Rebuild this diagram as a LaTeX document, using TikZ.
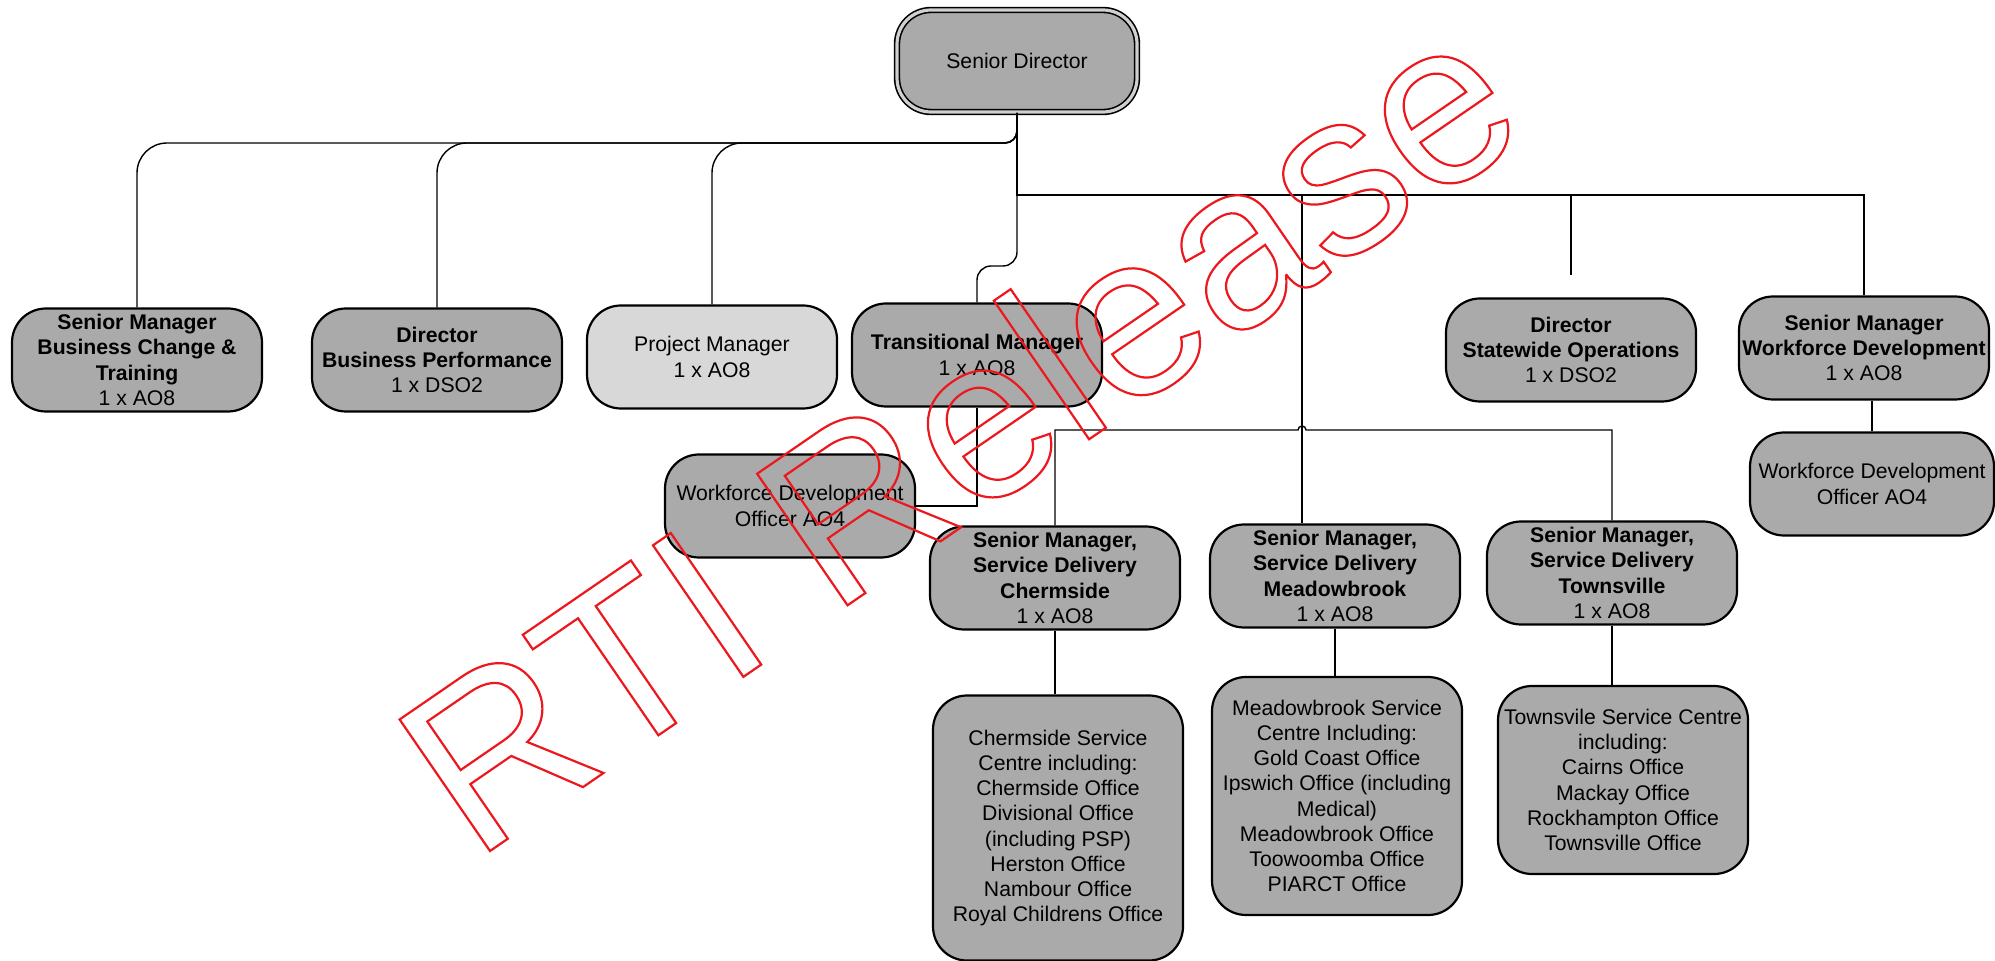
\documentclass[tikz,border=0pt]{standalone}
\usepackage{fontspec}
\setmainfont{Liberation Sans}
\usetikzlibrary{positioning,calc}
\definecolor{mygrey}{RGB}{170,170,170}
\definecolor{mylightgrey}{RGB}{216,216,216}
\definecolor{myred}{RGB}{236,24,30}
\newcommand\outlined[1]{\special{pdf:literal direct 1 Tr 1.1 w}#1\special{pdf:literal direct 0 Tr}}

\begin{document}
\begin{tikzpicture}[x=0.5pt,y=-0.5pt,
greyb/.style={
  draw=black,
  line width=1.1pt,
  fill=mygrey,
  rounded corners=17pt,
  minimum width=125pt,
  minimum height=51.5pt,
  inner sep=1pt,
  align=center,
  font={\fontsize{10.6}{12.6}\selectfont}},
lightb/.style={greyb,fill=mylightgrey},
link/.style={draw=black,line width=0.7pt},
]
\fill[white] (0,0) rectangle (1995,961);
\path[use as bounding box] (0,0) rectangle (1995,961);
% top
\node[greyb,double=mygrey!55!white,double distance=1.6pt,line width=0.8pt,
  minimum width=120pt,minimum height=51pt] (SD) at (1017,61) {Senior Director};
% second row
\node[greyb] (BCT) at (137,360) {\textbf{Senior Manager}\\\textbf{Business Change \&}\\\textbf{Training}\\1 x AO8};
\node[greyb] (DBP) at (437,360) {\textbf{Director}\\\textbf{Business Performance}\\1 x DSO2};
\node[lightb] (PM) at (712,357) {Project Manager\\1 x AO8};
\node[greyb] (TM) at (977,355) {\textbf{Transitional Manager}\\1 x AO8};
\node[greyb] (DSO) at (1571,350) {\textbf{Director}\\\textbf{Statewide Operations}\\1 x DSO2};
\node[greyb] (SMWD) at (1864,348) {\textbf{Senior Manager}\\\textbf{Workforce Development}\\1 x AO8};
% third row
\node[greyb] (WDO) at (790,506) {Workforce Development\\Officer AO4};
\node[greyb,minimum width=122pt] (WDOr) at (1872,484) {Workforce Development\\Officer AO4};
\node[greyb] (SDC) at (1055,578) {\textbf{Senior Manager,}\\\textbf{Service Delivery}\\\textbf{Chermside}\\1 x AO8};
\node[greyb] (SDM) at (1335,576) {\textbf{Senior Manager,}\\\textbf{Service Delivery}\\\textbf{Meadowbrook}\\1 x AO8};
\node[greyb] (SDT) at (1612,573) {\textbf{Senior Manager,}\\\textbf{Service Delivery}\\\textbf{Townsville}\\1 x AO8};
% service centres
\node[greyb,minimum height=132.5pt] (SCC) at (1058,828) {Chermside Service\\Centre including:\\Chermside Office\\Divisional Office\\(including PSP)\\Herston Office\\Nambour Office\\Royal Childrens Office};
\node[greyb,minimum height=119pt] (SCM) at (1337,796) {Meadowbrook Service\\Centre Including:\\Gold Coast Office\\Ipswich Office (including\\Medical)\\Meadowbrook Office\\Toowoomba Office\\PIARCT Office};
\node[greyb,minimum height=94pt] (SCT) at (1623,780) {Townsvile Service Centre\\including:\\Cairns Office\\Mackay Office\\Rockhampton Office\\Townsville Office};

% connectors
\coordinate (busL) at (0,143);
\coordinate (busR) at (0,195);
\coordinate (jog) at (0,266);
\coordinate (busD) at (0,430);
\coordinate (tap) at (1302,195);
\coordinate (DSOend) at (1571,275);
\foreach \n in {BCT,DBP,PM}
  \draw[link,rounded corners=6pt] (SD.south) |- ($(SD.south|-busL)+(-60,0)$) [rounded corners=15pt] -| (\n.north);
\draw[link,rounded corners=7pt] (SD.south) |- (TM.north |- jog) -- (TM.north);
\draw[link] (SD.south) |- (SMWD.north |- busR) -- (SMWD.north);
\draw[link] (DSO.north |- busR) -- (DSOend);
\draw[link] (tap) -- (SDM.north -| tap);
\draw[link] (SDC.north) |- ($(tap |- busD)+(-4,0)$) arc[start angle=180,end angle=0,radius=2pt] -| (SDT.north);
\draw[link] (TM.south) |- (WDO.east);
\draw[link] (SDC.south) -- (SDC.south |- SCC.north);
\draw[link] (SDM.south) -- (SDM.south |- SCM.north);
\draw[link] (SDT.south) -- (SDT.south |- SCT.north);
\draw[link] (WDOr.north) -- (WDOr.north |- SMWD.south);

% stamp
\node[anchor=base west,rotate=34.5,inner sep=0pt,text=myred,
  font={\fontsize{116}{120}\selectfont}] (RTI) at (474,862) {\outlined{RTI Release}};
\end{tikzpicture}
\end{document}
